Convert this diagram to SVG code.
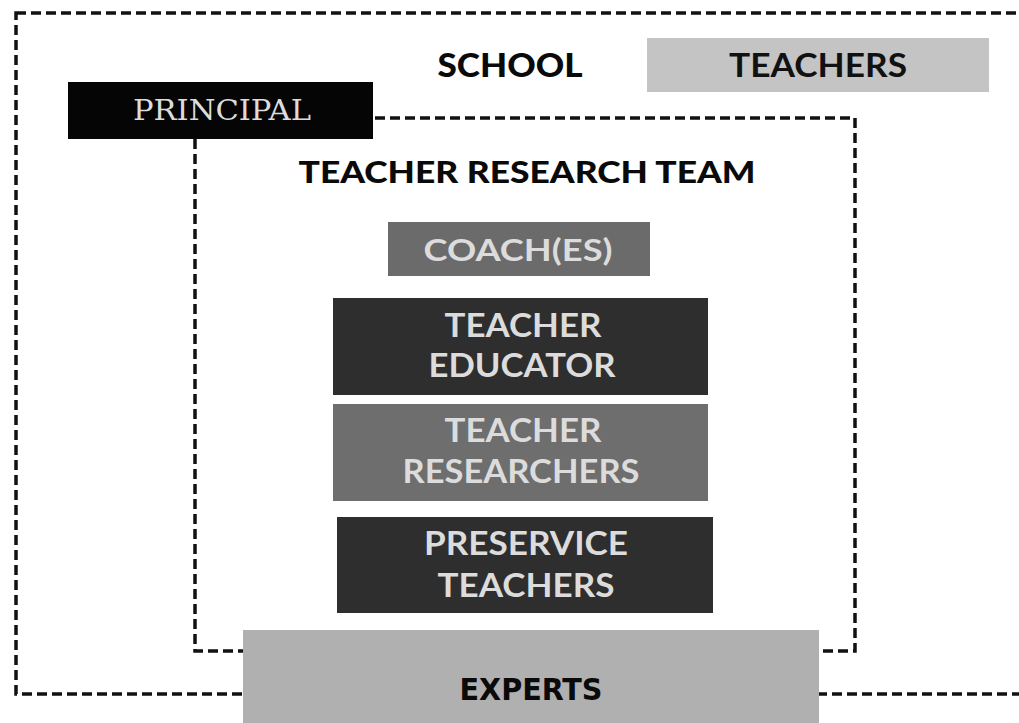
<svg xmlns="http://www.w3.org/2000/svg" width="1019" height="723" viewBox="0 0 1019 723">
<style>
.bound{fill:none;stroke:#111;stroke-width:3.5;stroke-dasharray:10 5}
.title{font-family:Lato,"DejaVu Sans",sans-serif;font-weight:900;fill:#0a0a0a;text-anchor:middle}
.lbl{font-family:Lato,"Open Sans",sans-serif;font-weight:700;text-anchor:middle}
.light{fill:#dcdcdc}
.dark{fill:#111}
</style>
<rect width="1019" height="723" fill="#fff"/>
<g id="connectors">
<rect class="bound" x="16" y="13" width="1100" height="681"/>
<rect class="bound" x="195" y="118" width="660" height="533"/>
</g>
<g id="school-label"><text class="title" x="510" y="77" font-size="32" textLength="145" lengthAdjust="spacingAndGlyphs">SCHOOL</text></g>
<g id="teachers"><rect x="647" y="38" width="342" height="54" fill="#c4c4c4"/><text class="lbl dark" x="818" y="77" font-size="33" font-weight="400" textLength="178" lengthAdjust="spacingAndGlyphs">TEACHERS</text></g>
<g id="principal"><rect x="68" y="82" width="305" height="57" fill="#050505"/><text x="222" y="120" font-family="'DejaVu Serif','Liberation Serif',serif" font-size="28" fill="#dcdcdc" text-anchor="middle" textLength="178" lengthAdjust="spacingAndGlyphs">PRINCIPAL</text></g>
<g id="team-label"><text class="title" x="527" y="183" font-size="31" textLength="457" lengthAdjust="spacingAndGlyphs">TEACHER RESEARCH TEAM</text></g>
<g id="coaches"><rect x="388" y="222" width="262" height="54" fill="#6b6b6b"/><text class="lbl light" x="518" y="261" font-size="31" textLength="189" lengthAdjust="spacingAndGlyphs">COACH(ES)</text></g>
<g id="teacher-educator"><rect x="333" y="298" width="375" height="97" fill="#2e2e2e"/><text class="lbl light" font-size="32"><tspan x="523" y="337" textLength="157" lengthAdjust="spacingAndGlyphs">TEACHER</tspan><tspan x="522" y="377" textLength="187" lengthAdjust="spacingAndGlyphs">EDUCATOR</tspan></text></g>
<g id="teacher-researchers"><rect x="333" y="404" width="375" height="97" fill="#6e6e6e"/><text class="lbl light" font-size="32"><tspan x="523" y="442" textLength="157" lengthAdjust="spacingAndGlyphs">TEACHER</tspan><tspan x="521" y="483" textLength="237" lengthAdjust="spacingAndGlyphs">RESEARCHERS</tspan></text></g>
<g id="preservice-teachers"><rect x="337" y="517" width="376" height="96" fill="#2e2e2e"/><text class="lbl light" font-size="32"><tspan x="526" y="555" textLength="204" lengthAdjust="spacingAndGlyphs">PRESERVICE</tspan><tspan x="526" y="597" textLength="177" lengthAdjust="spacingAndGlyphs">TEACHERS</tspan></text></g>
<g id="experts"><rect x="243" y="630" width="576" height="100" fill="#b0b0b0"/><text x="531" y="700" font-family="'DejaVu Sans Condensed','DejaVu Sans',sans-serif" font-weight="700" font-size="30" fill="#0a0a0a" text-anchor="middle" textLength="143" lengthAdjust="spacingAndGlyphs">EXPERTS</text></g>
</svg>
